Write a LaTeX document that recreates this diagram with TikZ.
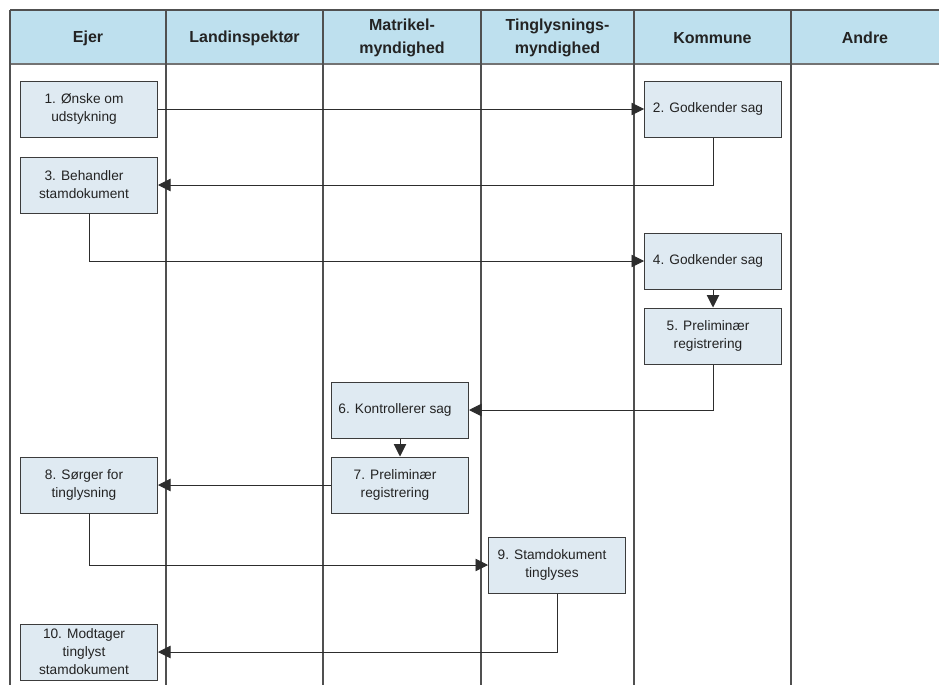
\documentclass[tikz,border=0pt]{standalone}
\usepackage{fontspec}
\setmainfont{Liberation Sans}
\usetikzlibrary{arrows.meta}
\definecolor{hdrfill}{RGB}{190,224,238}
\definecolor{boxfill}{RGB}{223,234,242}
\definecolor{boxline}{RGB}{60,60,60}
\definecolor{colline}{RGB}{80,80,80}
\definecolor{lineclr}{RGB}{45,45,45}
\definecolor{txt}{RGB}{35,35,35}
\tikzset{
  box/.style={draw=boxline, fill=boxfill, line width=1pt, minimum width=137pt, minimum height=56pt, inner sep=0pt},
  btxt/.style={align=center, font=\fontsize{13.7}{18}\selectfont, text=txt, xshift=-5pt},
  htxt/.style={align=center, font=\fontsize{16}{23}\selectfont\bfseries, text=txt},
  conn/.style={draw=lineclr, line width=0.9pt, -{Triangle[length=12.5pt,width=12.5pt]}},
  colln/.style={draw=colline, line width=1.4pt},
}
\begin{document}
\begin{tikzpicture}[x=1pt,y=-1pt]
\useasboundingbox (0,0) rectangle (939,685);
% header
\fill[hdrfill] (10,10) rectangle (939,64);
\draw[colline, line width=1.2pt] (10,10) -- (939,10);
\draw[colline!80, line width=2pt] (10,64.5) -- (939,64.5);
\foreach \x in {10,166,323,481,634,791} {
  \draw[colln] (\x,10) -- (\x,685);
}
\node[htxt] (h1) at (88,38) {Ejer};
\node[htxt] (h2) at (244.5,38) {Landinspektør};
\node[htxt] (h3) at (402,38) {Matrikel-\\myndighed};
\node[htxt] (h4) at (557.5,38) {Tinglysnings-\\myndighed};
\node[htxt] (h5) at (712.5,38) {Kommune};
\node[htxt] (h6) at (865,38) {Andre};
% boxes
\node[box, label={[btxt]center:1. Ønske om\\udstykning}] (b1) at (89,109) {};
\node[box, label={[btxt]center:2. Godkender sag}] (b2) at (713,109) {};
\node[box, label={[btxt]center:3. Behandler\\stamdokument}] (b3) at (89,185) {};
\node[box, label={[btxt]center:4. Godkender sag}] (b4) at (713,261) {};
\node[box, label={[btxt]center:5. Preliminær\\registrering}] (b5) at (713,336) {};
\node[box, label={[btxt]center:6. Kontrollerer sag}] (b6) at (400,410) {};
\node[box, label={[btxt]center:7. Preliminær\\registrering}] (b7) at (400,485) {};
\node[box, label={[btxt]center:8. Sørger for\\tinglysning}] (b8) at (89,485) {};
\node[box, label={[btxt]center:9. Stamdokument\\tinglyses}] (b9) at (557,565) {};
\node[box, label={[btxt]center:10. Modtager\\tinglyst\\stamdokument}] (b10) at (89,652) {};
% connectors
\draw[conn] (b1.east) -- (b2.west);
\draw[conn] (b2.south) |- (b3.east);
\draw[conn] (b3.south) |- (b4.west);
\draw[conn] (b4.south) -- (b5.north);
\draw[conn] (b5.south) |- (b6.east);
\draw[conn] (b6.south) -- (b7.north);
\draw[conn] (b7.west) -- (b8.east);
\draw[conn] (b8.south) |- (b9.west);
\draw[conn] (b9.south) |- (b10.east);
\end{tikzpicture}
\end{document}
